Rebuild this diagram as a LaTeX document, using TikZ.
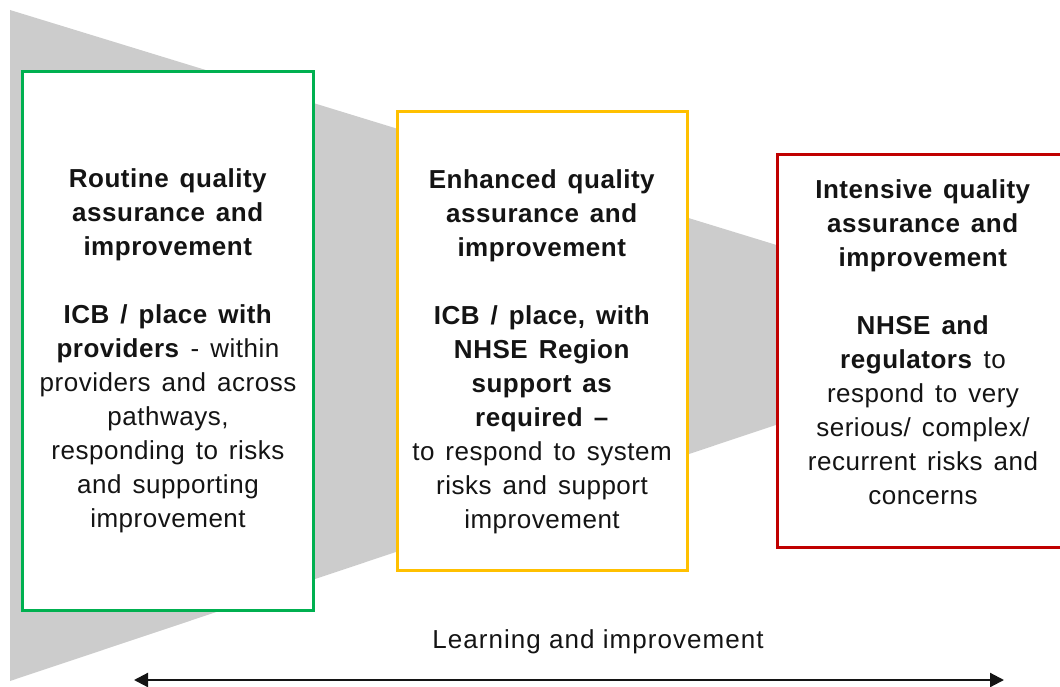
\documentclass[tikz,border=0pt]{standalone}
\usepackage{fontspec}
\setmainfont{Liberation Sans}
\newfontfamily\boxfont{Liberation Sans}[LetterSpace=2]
\newfontfamily\labelfont{Liberation Sans}[LetterSpace=4]
\newcommand\stagefontsetup{\boxfont\fontsize{26}{34}\selectfont\spaceskip=11pt plus 2pt minus 1pt\relax}
\usetikzlibrary{arrows.meta}
\definecolor{boxgreen}{RGB}{0,176,80}
\definecolor{boxyellow}{RGB}{255,192,0}
\definecolor{boxred}{RGB}{192,0,0}
\definecolor{funnel}{RGB}{204,204,204}
\definecolor{txt}{RGB}{20,20,20}
\tikzset{
  stagebox/.style={draw, line width=3pt, fill=white, inner sep=0pt},
  stagetext/.style={align=center, text=txt, inner sep=0pt, font=\stagefontsetup},
}
\begin{document}
\begin{tikzpicture}[x=1pt,y=-1pt]
\useasboundingbox (0,0) rectangle (1060,687);
\begin{scope}
\clip (0,0) rectangle (1060,687);
\fill[funnel] (10,10) -- (1057,331) -- (10,681) -- cycle;
\node[stagebox, draw=boxgreen, minimum width=291pt, minimum height=538pt] (routine) at (167.5,341) {};
\node[stagetext] (routinetext) at (168,351)
 {\textbf{Routine quality}\\ \textbf{assurance and}\\ \textbf{improvement}\\[34pt]
  \textbf{ICB / place with}\\ \textbf{providers} - within\\ providers and across\\ pathways,\\ responding to risks\\ and supporting\\ improvement};
\node[stagebox, draw=boxyellow, minimum width=290pt, minimum height=458pt] (enhanced) at (542,341) {};
\node[stagetext] (enhancedtext) at (542,352)
 {\textbf{Enhanced quality}\\ \textbf{assurance and}\\ \textbf{improvement}\\[34pt]
  \textbf{ICB / place, with}\\ \textbf{NHSE Region}\\ \textbf{support as}\\ \textbf{required –}\\ to respond to system\\ risks and support\\ improvement};
\node[stagebox, draw=boxred, minimum width=292pt, minimum height=392pt] (intensive) at (923,351) {};
\node[stagetext] (intensivetext) at (923,342)
 {\textbf{Intensive quality}\\ \textbf{assurance and}\\ \textbf{improvement}\\[34pt]
  \textbf{NHSE and}\\ \textbf{regulators} to\\ respond to very\\ serious/ complex/\\ recurrent risks and\\ concerns};
\end{scope}
\node[text=txt, inner sep=0pt, font=\labelfont\fontsize{26}{30}\selectfont] (learning) at (598,642) {Learning and improvement};
\coordinate (arrL) at (134,680);
\coordinate (arrR) at (1004,680);
\draw[line width=2.2pt, draw=txt, {Triangle[length=14pt,width=14pt]}-{Triangle[length=14pt,width=14pt]}] (arrL) -- (arrR);
\end{tikzpicture}
\end{document}
